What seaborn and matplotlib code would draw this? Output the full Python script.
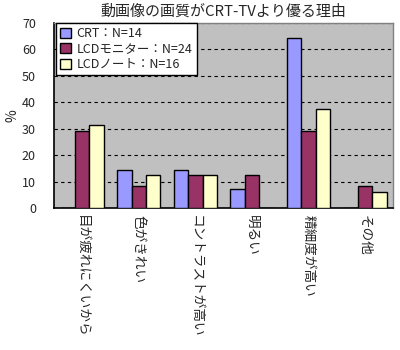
import matplotlib
matplotlib.use("Agg")
import matplotlib.pyplot as plt
import seaborn as sns
import pandas as pd

categories = ["目が疲れにくいから", "色がきれい", "コントラストが高い", "明るい", "精細度が高い", "その他"]
series_names = ["CRT：N=14", "LCDモニター：N=24", "LCDノート：N=16"]
crt = [0.0, 14.3, 14.3, 7.1, 64.3, 0.0]
lcd_monitor = [29.2, 8.3, 12.5, 12.5, 29.2, 8.3]
lcd_note = [31.3, 12.5, 12.5, 0.0, 37.5, 6.3]
colors = ["#9999FF", "#993366", "#FFFFCC"]
yticks = [0, 10, 20, 30, 40, 50, 60, 70]

rows = []
for name, vals in zip(series_names, [crt, lcd_monitor, lcd_note]):
    for c, v in zip(categories, vals):
        rows.append({"cat": c, "series": name, "val": v})
df = pd.DataFrame(rows)

sns.set_theme(style="white")
plt.rcParams['font.family'] = ['Noto Sans CJK JP', 'DejaVu Sans']

fig = plt.figure(figsize=(4, 3.5), dpi=100)
ax = fig.add_axes([54/400, 1-208.3/350, (393.3-54)/400, (208.3-22.7)/350])
ax.set_facecolor("#C0C0C0")
sns.barplot(data=df, x="cat", y="val", hue="series", palette=colors, width=0.76,
            edgecolor="black", linewidth=1.0, saturation=1, ax=ax, zorder=3)
ax.set_ylim(0, 70)
ax.set_yticks(yticks)
ax.set_yticklabels([str(t) for t in yticks], fontsize=9)
ax.yaxis.grid(True, linestyle=(0, (3, 3)), color="black", linewidth=0.8, zorder=1)
ax.set_axisbelow(True)
ax.set_xlabel("")
ax.set_ylabel("%", fontsize=10, labelpad=2)
ax.set_xlim(-0.5, len(categories) - 0.5)
ax.tick_params(axis="x", length=0, pad=5)
ax.tick_params(axis="y", length=0, pad=13)
ax.set_xticks(range(len(categories)))
ax.set_xticklabels(categories, rotation=-90, fontsize=9.8, va="top", ha="center")
for s in ["left", "bottom"]:
    ax.spines[s].set_color("black")
    ax.spines[s].set_linewidth(1.2)
for s in ["right", "top"]:
    ax.spines[s].set_color("#808080")
    ax.spines[s].set_linewidth(1.0)

leg = ax.legend(loc="upper left", bbox_to_anchor=(0.005, 1.0), frameon=True, fancybox=False,
                fontsize=9, edgecolor="black", framealpha=1, borderpad=0.35,
                handlelength=0.9, handleheight=0.9, handletextpad=0.4, labelspacing=0.2,
                borderaxespad=0)
leg.get_frame().set_linewidth(1.0)
leg.set_zorder(5)

fig.text(223/400, 1-12/350, "動画像の画質がCRT-TVより優る理由", fontsize=10.8,
         ha="center", va="center")
fig.savefig("out.png", dpi=100)
